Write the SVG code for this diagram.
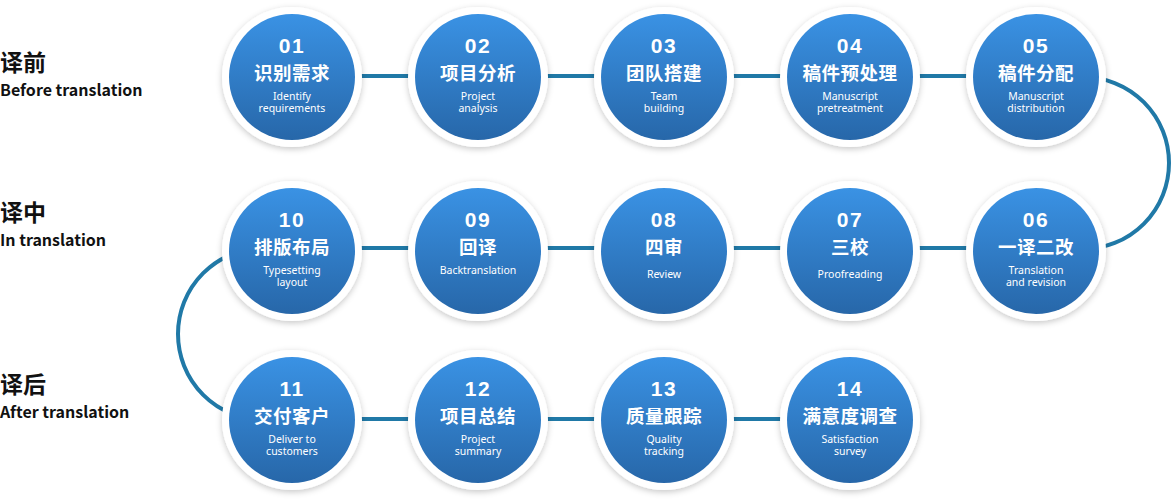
<svg xmlns="http://www.w3.org/2000/svg" width="1172" height="499" viewBox="0 0 1172 499">
<defs>
<linearGradient id="blue" x1="0" y1="0" x2="0" y2="1">
<stop offset="0" stop-color="#3a92e4"/>
<stop offset="1" stop-color="#2767a9"/>
</linearGradient>
<filter id="sh" x="-30%" y="-30%" width="160%" height="160%">
<feDropShadow dx="0" dy="2" stdDeviation="3" flood-color="#000" flood-opacity="0.22"/>
</filter>
<g id="disc">
<circle r="70" fill="#fff" filter="url(#sh)"/>
<circle r="63" fill="url(#blue)"/>
</g>
</defs>
<style>
.lab{font-family:"Noto Sans CJK SC","Noto Sans",sans-serif;font-weight:700;fill:#111}
.zh{font-size:23px}
.en{font-size:16px}
.num{font-family:"Liberation Sans",Arial,sans-serif;font-weight:700;font-size:21px;fill:#fff;text-anchor:middle;letter-spacing:1.5px}
.t{font-family:"Noto Sans CJK SC",sans-serif;font-weight:700;font-size:18.5px;fill:#fff;text-anchor:middle;letter-spacing:0.5px}
.s{font-family:"Noto Sans","Liberation Sans",sans-serif;font-size:10.5px;fill:#fff;text-anchor:middle}
.ln{fill:none;stroke:#2079a7;stroke-width:4}
</style>
<g id="labels">
<text class="lab zh" x="0" y="71">译前</text>
<text class="lab en" x="0" y="96">Before translation</text>
<text class="lab zh" x="0" y="221">译中</text>
<text class="lab en" x="0" y="246">In translation</text>
<text class="lab zh" x="0" y="393">译后</text>
<text class="lab en" x="0" y="418">After translation</text>
</g>
<g id="connectors">
<line class="ln" x1="292" y1="76" x2="1036" y2="76"/>
<line class="ln" x1="292" y1="248" x2="1036" y2="248"/>
<line class="ln" x1="292" y1="419" x2="850" y2="419"/>
<path class="ln" d="M1083,77 A86,86 0 0 1 1083,249"/>
<path class="ln" d="M264,248 A86,86 0 0 0 264,420"/>
</g>
<g id="n01" transform="translate(292,77)"><use href="#disc"/><text class="num" y="-24">01</text><text class="t" y="3">识别需求</text><text class="s" y="23">Identify</text><text class="s" y="35">requirements</text></g>
<g id="n02" transform="translate(478,77)"><use href="#disc"/><text class="num" y="-24">02</text><text class="t" y="3">项目分析</text><text class="s" y="23">Project</text><text class="s" y="35">analysis</text></g>
<g id="n03" transform="translate(664,77)"><use href="#disc"/><text class="num" y="-24">03</text><text class="t" y="3">团队搭建</text><text class="s" y="23">Team</text><text class="s" y="35">building</text></g>
<g id="n04" transform="translate(850,77)"><use href="#disc"/><text class="num" y="-24">04</text><text class="t" y="3">稿件预处理</text><text class="s" y="23">Manuscript</text><text class="s" y="35">pretreatment</text></g>
<g id="n05" transform="translate(1036,77)"><use href="#disc"/><text class="num" y="-24">05</text><text class="t" y="3">稿件分配</text><text class="s" y="23">Manuscript</text><text class="s" y="35">distribution</text></g>
<g id="n06" transform="translate(1036,251)"><use href="#disc"/><text class="num" y="-24">06</text><text class="t" y="3">一译二改</text><text class="s" y="23">Translation</text><text class="s" y="35">and revision</text></g>
<g id="n07" transform="translate(850,251)"><use href="#disc"/><text class="num" y="-24">07</text><text class="t" y="3">三校</text><text class="s" y="27">Proofreading</text></g>
<g id="n08" transform="translate(664,251)"><use href="#disc"/><text class="num" y="-24">08</text><text class="t" y="3">四审</text><text class="s" y="27">Review</text></g>
<g id="n09" transform="translate(478,251)"><use href="#disc"/><text class="num" y="-24">09</text><text class="t" y="3">回译</text><text class="s" y="23">Backtranslation</text></g>
<g id="n10" transform="translate(292,251)"><use href="#disc"/><text class="num" y="-24">10</text><text class="t" y="3">排版布局</text><text class="s" y="23">Typesetting</text><text class="s" y="35">layout</text></g>
<g id="n11" transform="translate(292,420)"><use href="#disc"/><text class="num" y="-24">11</text><text class="t" y="3">交付客户</text><text class="s" y="23">Deliver to</text><text class="s" y="35">customers</text></g>
<g id="n12" transform="translate(478,420)"><use href="#disc"/><text class="num" y="-24">12</text><text class="t" y="3">项目总结</text><text class="s" y="23">Project</text><text class="s" y="35">summary</text></g>
<g id="n13" transform="translate(664,420)"><use href="#disc"/><text class="num" y="-24">13</text><text class="t" y="3">质量跟踪</text><text class="s" y="23">Quality</text><text class="s" y="35">tracking</text></g>
<g id="n14" transform="translate(850,420)"><use href="#disc"/><text class="num" y="-24">14</text><text class="t" y="3">满意度调查</text><text class="s" y="23">Satisfaction</text><text class="s" y="35">survey</text></g>
</svg>
